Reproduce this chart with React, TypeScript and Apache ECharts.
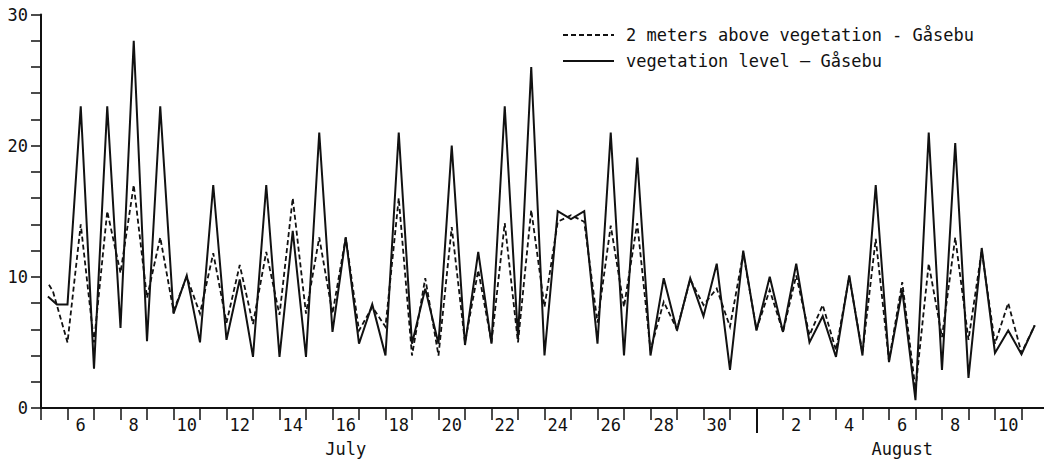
import React, { useEffect, useRef } from "react";
import * as echarts from "echarts";

// x = days since 5 July 00:00 (two readings per day: midday peak, night minimum)
const solidStart: number[][] = [[0.26, 8.5], [0.6, 7.9]];
const dashedStart: number[][] = [[0.3, 9.4], [0.45, 8.9]];

const solidValues = [
  7.9, 23, 3.0, 23, 6.1, 28, 5.1, 23, 7.2, 10.1, 5.0, 17, 5.2, 9.8, 3.9, 17,
  3.9, 13.5, 3.9, 21, 5.8, 13.0, 4.9, 7.9, 4.0, 21, 4.9, 9.1, 4.9, 20, 4.8,
  11.9, 4.9, 23, 5.3, 26, 4.0, 15.0, 14.4, 15.0, 4.9, 21, 4.0, 19.1, 4.0, 9.9,
  5.9, 9.9, 7.0, 11.0, 2.9, 12.0, 5.9, 10.0, 5.8, 11.0, 5.0, 7.0, 3.9, 10.1,
  4.0, 17.0, 3.5, 9.0, 0.6, 21, 2.9, 20.2, 2.3, 12.2, 4.2, 5.9, 4.1, 6.3,
];

const dashedValues = [
  5.0, 14, 5.0, 15.0, 10.3, 17.0, 8.4, 13.0, 7.4, 10.0, 7.2, 11.8, 6.5, 10.9,
  6.4, 11.9, 7.1, 16.0, 7.2, 13.0, 7.2, 13.0, 5.9, 7.7, 6.2, 16.0, 4.0, 9.9,
  4.0, 13.8, 5.0, 10.5, 5.0, 14.1, 5.0, 15.1, 7.7, 14.2, 14.7, 14.2, 6.5, 13.9,
  7.7, 14.1, 4.4, 8.1, 6.0, 9.8, 7.85, 9.1, 6.2, 11.8, 6.0, 9.0, 5.8, 10.1,
  5.55, 7.85, 4.4, 10.0, 4.2, 12.9, 3.6, 9.6, 1.4, 11.0, 5.4, 13.0, 5.2, 12.0,
  4.9, 8.0, 4.2, 6.3,
];

const firstReading = 1.0; // midnight 5/6 July
const readingStep = 0.5; // half a day

const julyDays = [6, 8, 10, 12, 14, 16, 18, 20, 22, 24, 26, 28, 30];
const augustDays = [2, 4, 6, 8, 10];
const monthNames = ["July", "August"];
const seriesNames = [
  "2 meters above vegetation - Gåsebu",
  "vegetation level – Gåsebu",
];

const FONT = "'DejaVu Sans Mono', monospace";
const INK = "#111";

export default function App() {
  const ref = useRef<HTMLDivElement>(null);

  useEffect(() => {
    if (!ref.current) return;
    const chart = echarts.init(ref.current, null, { renderer: "svg" });

    const times = solidValues.map((_, i) => firstReading + i * readingStep);
    const solidData = solidStart.concat(times.map((t, i) => [t, solidValues[i]]));
    const dashedData = dashedStart.concat(times.map((t, i) => [t, dashedValues[i]]));

    const julyStart = 5; // x = 0 is the start of 5 July
    const julyLength = 31;
    const dayPos = (month: number, d: number) =>
      month === 0 ? d - julyStart + 0.5 : julyLength - julyStart + 1 + d - 1 + 0.5;
    const labelMap: Record<string, string> = {};
    julyDays.forEach((d) => (labelMap[dayPos(0, d).toFixed(2)] = String(d)));
    augustDays.forEach((d) => (labelMap[dayPos(1, d).toFixed(2)] = String(d)));
    const labelPositions = Object.keys(labelMap).map(Number);
    const monthStart = julyLength - julyStart + 1; // 1 August
    const monthLabelPos = [dayPos(0, 16), dayPos(1, 6)];
    const monthMap: Record<string, string> = {};
    monthLabelPos.forEach((p, i) => (monthMap[p.toFixed(2)] = monthNames[i]));

    const xMax = 37.85;
    const dayTicks: number[] = [];
    for (let k = 0; k <= 38; k++) dayTicks.push(k);

    const baseX = {
      type: "value" as const,
      min: 0,
      max: xMax,
      position: "bottom" as const,
      splitLine: { show: false },
    };

    chart.setOption({
      animation: false,
      backgroundColor: "#fff",
      grid: { left: 41, right: 0, top: 14.5, bottom: 53 },
      legend: {
        orient: "vertical",
        left: 562,
        top: 25,
        padding: 0,
        itemGap: 6,
        itemWidth: 51,
        itemHeight: 14,
        selectedMode: false,
        data: seriesNames,
        itemStyle: { opacity: 0 },
        textStyle: {
          fontFamily: FONT,
          fontSize: 17,
          color: INK,
          lineHeight: 20,
          padding: [0, 0, 0, 7],
        },
      },
      xAxis: [
        {
          ...baseX,
          axisLine: { show: true, lineStyle: { color: INK, width: 2 } },
          axisTick: {
            show: true,
            customValues: dayTicks,
            length: 12,
            lineStyle: { color: INK, width: 1.5 },
          },
          axisLabel: {
            show: true,
            customValues: labelPositions,
            formatter: (v: number) => labelMap[v.toFixed(2)] ?? "",
            margin: 8,
            fontFamily: FONT,
            fontSize: 17,
            color: INK,
          },
        },
        {
          ...baseX,
          axisLine: { show: false },
          axisTick: {
            show: true,
            customValues: [monthStart],
            length: 25,
            lineStyle: { color: INK, width: 2 },
          },
          axisLabel: {
            show: true,
            customValues: monthLabelPos,
            formatter: (v: number) => monthMap[v.toFixed(2)] ?? "",
            margin: 32,
            fontFamily: FONT,
            fontSize: 17,
            color: INK,
          },
        },
      ],
      yAxis: {
        type: "value",
        min: 0,
        max: 30,
        interval: 10,
        splitLine: { show: false },
        axisLine: { show: true, lineStyle: { color: INK, width: 2 } },
        axisTick: { show: true, length: 10, lineStyle: { color: INK, width: 1.5 } },
        minorTick: { show: true, splitNumber: 5, length: 10, lineStyle: { color: INK, width: 1.5 } },
        axisLabel: {
          margin: 13,
          fontFamily: FONT,
          fontSize: 17,
          color: INK,
        },
      },
      series: [
        {
          name: seriesNames[0],
          type: "line",
          data: dashedData,
          symbol: "none",
          xAxisIndex: 0,
          lineStyle: { color: INK, width: 1.8, type: [5, 3], join: "miter", miterLimit: 4 },
          itemStyle: { color: INK },
          z: 2,
        },
        {
          name: seriesNames[1],
          type: "line",
          data: solidData,
          symbol: "none",
          xAxisIndex: 0,
          lineStyle: { color: INK, width: 2, join: "miter", miterLimit: 4 },
          itemStyle: { color: INK },
          z: 3,
        },
      ],
    });

    return () => chart.dispose();
  }, []);

  return (
    <div
      ref={ref}
      style={{ position: "absolute", left: 0, top: 0, width: 1044, height: 461, background: "#fff" }}
    />
  );
}
